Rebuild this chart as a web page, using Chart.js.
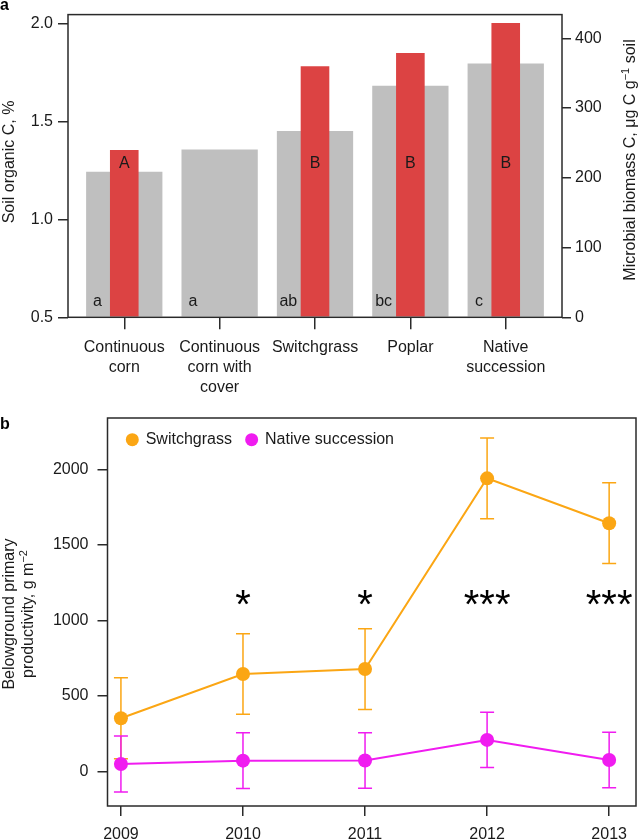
<!DOCTYPE html>
<html>
<head>
<meta charset="utf-8">
<script src="https://cdn.jsdelivr.net/npm/chart.js@4.4.1/dist/chart.umd.min.js"></script>
<style>
  body { margin: 0; background: #fff; }
  canvas { position: absolute; left: 0; }
</style>
</head>
<body>
<canvas id="carbonChart" width="643" height="395" style="top:0"></canvas>
<canvas id="bppChart" width="643" height="445" style="top:395px"></canvas>
<script>
// panel a: soil organic C (grey, left axis) and microbial biomass C (red, right axis)
const systems = [["Continuous", "corn"], ["Continuous", "corn with", "cover"], ["Switchgrass"], ["Poplar"], ["Native", "succession"]];
const soilOrganicC = [1.243, 1.357, 1.451, 1.682, 1.795];
const microbialC = [240, null, 360, 379, 422];
const soilLetters = ["a", "a", "ab", "bc", "c"];
const microbialLetters = ["A", "", "B", "B", "B"];
const soilTicks = [0.5, 1.0, 1.5, 2.0];
const microbialTicks = [0, 100, 200, 300, 400];

// panel b: belowground primary productivity, mean and error
const years = [2009, 2010, 2011, 2012, 2013];
const switchgrassBpp = [353, 646, 679, 1940, 1643];
const switchgrassErr = [268, 266, 267, 267, 267];
const nativeBpp = [51, 73, 74, 210, 77];
const nativeErr = [185, 185, 184, 183, 184];
const significance = ["", "*", "*", "***", "***"];
const bppTicks = [0, 500, 1000, 1500, 2000];

const FONT = "'Liberation Sans', Arial, Helvetica, sans-serif";
const INK = "#1a1a1a";
Chart.defaults.font.family = FONT;
Chart.defaults.font.size = 16;
Chart.defaults.color = INK;
Chart.defaults.animation = false;

// rotated (bottom-to-top) label with optional superscript parts
function drawRotated(ctx, x, y, parts) {
  ctx.save();
  ctx.translate(x, y);
  ctx.rotate(-Math.PI / 2);
  ctx.fillStyle = INK;
  ctx.textBaseline = "middle";
  ctx.textAlign = "left";
  const fontOf = p => (p.sup ? "11px " : "16px ") + FONT;
  const widths = parts.map(p => { ctx.font = fontOf(p); return ctx.measureText(p.text).width; });
  let cx = -widths.reduce((s, w) => s + w, 0) / 2;
  parts.forEach((p, i) => {
    ctx.font = fontOf(p);
    ctx.fillText(p.text, cx, p.sup ? -5 : 0);
    cx += widths[i];
  });
  ctx.restore();
}

const boxPlugin = {
  id: "box",
  afterDraw(chart) {
    const { ctx, chartArea: a } = chart;
    ctx.save();
    ctx.strokeStyle = "#2a2a2a";
    ctx.lineWidth = 1.5;
    ctx.strokeRect(a.left, a.top, a.right - a.left, a.bottom - a.top);
    ctx.restore();
  }
};

function tickGrid(len) {
  return { offset: false, drawOnChartArea: false, tickLength: len, color: "#2a2a2a", lineWidth: 1.5 };
}

// ---------- panel a ----------
const carbonDecor = {
  id: "carbonDecor",
  afterDatasetsDraw(chart) {
    const { ctx, scales: { x, y1 } } = chart;
    ctx.save();
    ctx.font = "16px " + FONT;
    ctx.fillStyle = INK;
    ctx.textAlign = "center";
    ctx.textBaseline = "middle";
    systems.forEach((s, i) => {
      ctx.fillText(microbialLetters[i], x.getPixelForValue(i), y1.getPixelForValue(221));
      ctx.fillText(soilLetters[i], x.getPixelForValue(i - 0.28), y1.getPixelForValue(23));
    });
    ctx.restore();
  },
  afterDraw(chart) {
    const { ctx } = chart;
    ctx.save();
    ctx.font = "bold 16px " + FONT;
    ctx.fillStyle = "#000";
    ctx.fillText("a", 0, 10);
    ctx.restore();
    drawRotated(ctx, 9.5, 162, [{ text: "Soil organic C, %" }]);
    drawRotated(ctx, 631, 160, [
      { text: "Microbial biomass C, \u03bcg C g" }, { text: "\u22121", sup: true }, { text: " soil" }
    ]);
  }
};

new Chart(document.getElementById("carbonChart"), {
  type: "bar",
  data: {
    datasets: [
      {
        label: "Microbial biomass C",
        data: microbialC.map((v, i) => ({ x: i, y: v })),
        yAxisID: "y1",
        backgroundColor: "#dc4343",
        grouped: false,
        categoryPercentage: 1,
        barPercentage: 0.3
      },
      {
        label: "Soil organic C",
        data: soilOrganicC.map((v, i) => ({ x: i, y: v })),
        yAxisID: "y",
        base: 0.5,
        backgroundColor: "#bfbfbf",
        grouped: false,
        categoryPercentage: 1,
        barPercentage: 0.8
      }
    ]
  },
  options: {
    responsive: false,
    layout: { padding: { top: 5.5 } },
    plugins: { legend: { display: false }, tooltip: { enabled: false } },
    scales: {
      x: {
        type: "linear",
        min: -0.59,
        max: 4.59,
        offset: false,
        border: { display: false },
        grid: tickGrid(12),
        ticks: {
          padding: 8,
          maxRotation: 0,
          autoSkip: false,
          font: { size: 16, lineHeight: 1.25 },
          callback: v => systems[v]
        },
        afterBuildTicks: s => { s.ticks = systems.map((_, i) => ({ value: i })); },
        afterFit: s => { s.height = 77.7; }
      },
      y: {
        position: "left",
        min: 0.5,
        max: 2.045,
        border: { display: false },
        grid: tickGrid(10),
        ticks: { padding: 5, callback: v => v.toFixed(1) },
        afterBuildTicks: s => { s.ticks = soilTicks.map(v => ({ value: v })); },
        afterFit: s => { s.width = 68; }
      },
      y1: {
        position: "right",
        min: 0,
        max: 434,
        border: { display: false },
        grid: tickGrid(9),
        ticks: { padding: 4, callback: v => String(v) },
        afterBuildTicks: s => { s.ticks = microbialTicks.map(v => ({ value: v })); },
        afterFit: s => { s.width = 81; }
      }
    }
  },
  plugins: [carbonDecor, boxPlugin]
});

// ---------- panel b ----------
const errorBars = {
  id: "errorBars",
  beforeDatasetsDraw(chart) {
    const { ctx, scales: { x, y } } = chart;
    chart.data.datasets.forEach(ds => {
      ctx.save();
      ctx.strokeStyle = ds.borderColor;
      ctx.lineWidth = 1.5;
      ds.data.forEach((pt, i) => {
        const px = x.getPixelForValue(pt.x);
        const top = y.getPixelForValue(pt.y + ds.errors[i]);
        const bot = y.getPixelForValue(pt.y - ds.errors[i]);
        ctx.beginPath();
        ctx.moveTo(px, top); ctx.lineTo(px, bot);
        ctx.moveTo(px - 7, top); ctx.lineTo(px + 7, top);
        ctx.moveTo(px - 7, bot); ctx.lineTo(px + 7, bot);
        ctx.stroke();
      });
      ctx.restore();
    });
  }
};

const bppDecor = {
  id: "bppDecor",
  afterDatasetsDraw(chart) {
    const { ctx, scales: { x, y } } = chart;
    ctx.save();
    ctx.font = "40px " + FONT;
    ctx.fillStyle = "#000";
    ctx.textAlign = "center";
    ctx.textBaseline = "alphabetic";
    const m = ctx.measureText("*");
    const mid = (m.actualBoundingBoxAscent - m.actualBoundingBoxDescent) / 2;
    years.forEach((yr, i) => {
      if (significance[i]) ctx.fillText(significance[i], x.getPixelForValue(yr), y.getPixelForValue(1149) + mid);
    });
    ctx.restore();
  },
  afterDraw(chart) {
    const { ctx, chartArea: a } = chart;
    // legend inside the plot box
    ctx.save();
    ctx.font = "16px " + FONT;
    ctx.textBaseline = "middle";
    let lx = a.left + 24.8;
    const ly = a.top + 21.7;
    chart.data.datasets.forEach(ds => {
      ctx.fillStyle = ds.backgroundColor;
      ctx.beginPath();
      ctx.arc(lx, ly, 6.5, 0, Math.PI * 2);
      ctx.fill();
      ctx.fillStyle = INK;
      ctx.fillText(ds.label, lx + 13.4, ly);
      lx += 13.4 + ctx.measureText(ds.label).width + 19.7;
    });
    ctx.font = "bold 16px " + FONT;
    ctx.fillStyle = "#000";
    ctx.fillText("b", 0, 30);
    ctx.restore();
    drawRotated(ctx, 9.5, 219, [{ text: "Belowground primary" }]);
    drawRotated(ctx, 29, 219, [{ text: "productivity, g m" }, { text: "\u22122", sup: true }]);
  }
};

new Chart(document.getElementById("bppChart"), {
  type: "line",
  data: {
    datasets: [
      {
        label: "Switchgrass",
        data: switchgrassBpp.map((v, i) => ({ x: years[i], y: v })),
        errors: switchgrassErr,
        borderColor: "#fba614",
        backgroundColor: "#fba614",
        borderWidth: 2,
        pointRadius: 7,
        pointBorderWidth: 0
      },
      {
        label: "Native succession",
        data: nativeBpp.map((v, i) => ({ x: years[i], y: v })),
        errors: nativeErr,
        borderColor: "#f01cf0",
        backgroundColor: "#f01cf0",
        borderWidth: 2,
        pointRadius: 7,
        pointBorderWidth: 0
      }
    ]
  },
  options: {
    responsive: false,
    layout: { padding: { top: 23, right: 1 } },
    plugins: { legend: { display: false }, tooltip: { enabled: false } },
    scales: {
      x: {
        type: "linear",
        min: 2008.89,
        max: 2013.22,
        border: { display: false },
        grid: tickGrid(10),
        ticks: { padding: 9, maxRotation: 0, autoSkip: false, callback: v => String(v) },
        afterBuildTicks: s => { s.ticks = years.map(v => ({ value: v })); },
        afterFit: s => { s.height = 34; }
      },
      y: {
        min: -227,
        max: 2339,
        border: { display: false },
        grid: tickGrid(10),
        ticks: { padding: 9, callback: v => String(v) },
        afterBuildTicks: s => { s.ticks = bppTicks.map(v => ({ value: v })); },
        afterFit: s => { s.width = 107.5; }
      }
    }
  },
  plugins: [errorBars, bppDecor, boxPlugin]
});
</script>
</body>
</html>
